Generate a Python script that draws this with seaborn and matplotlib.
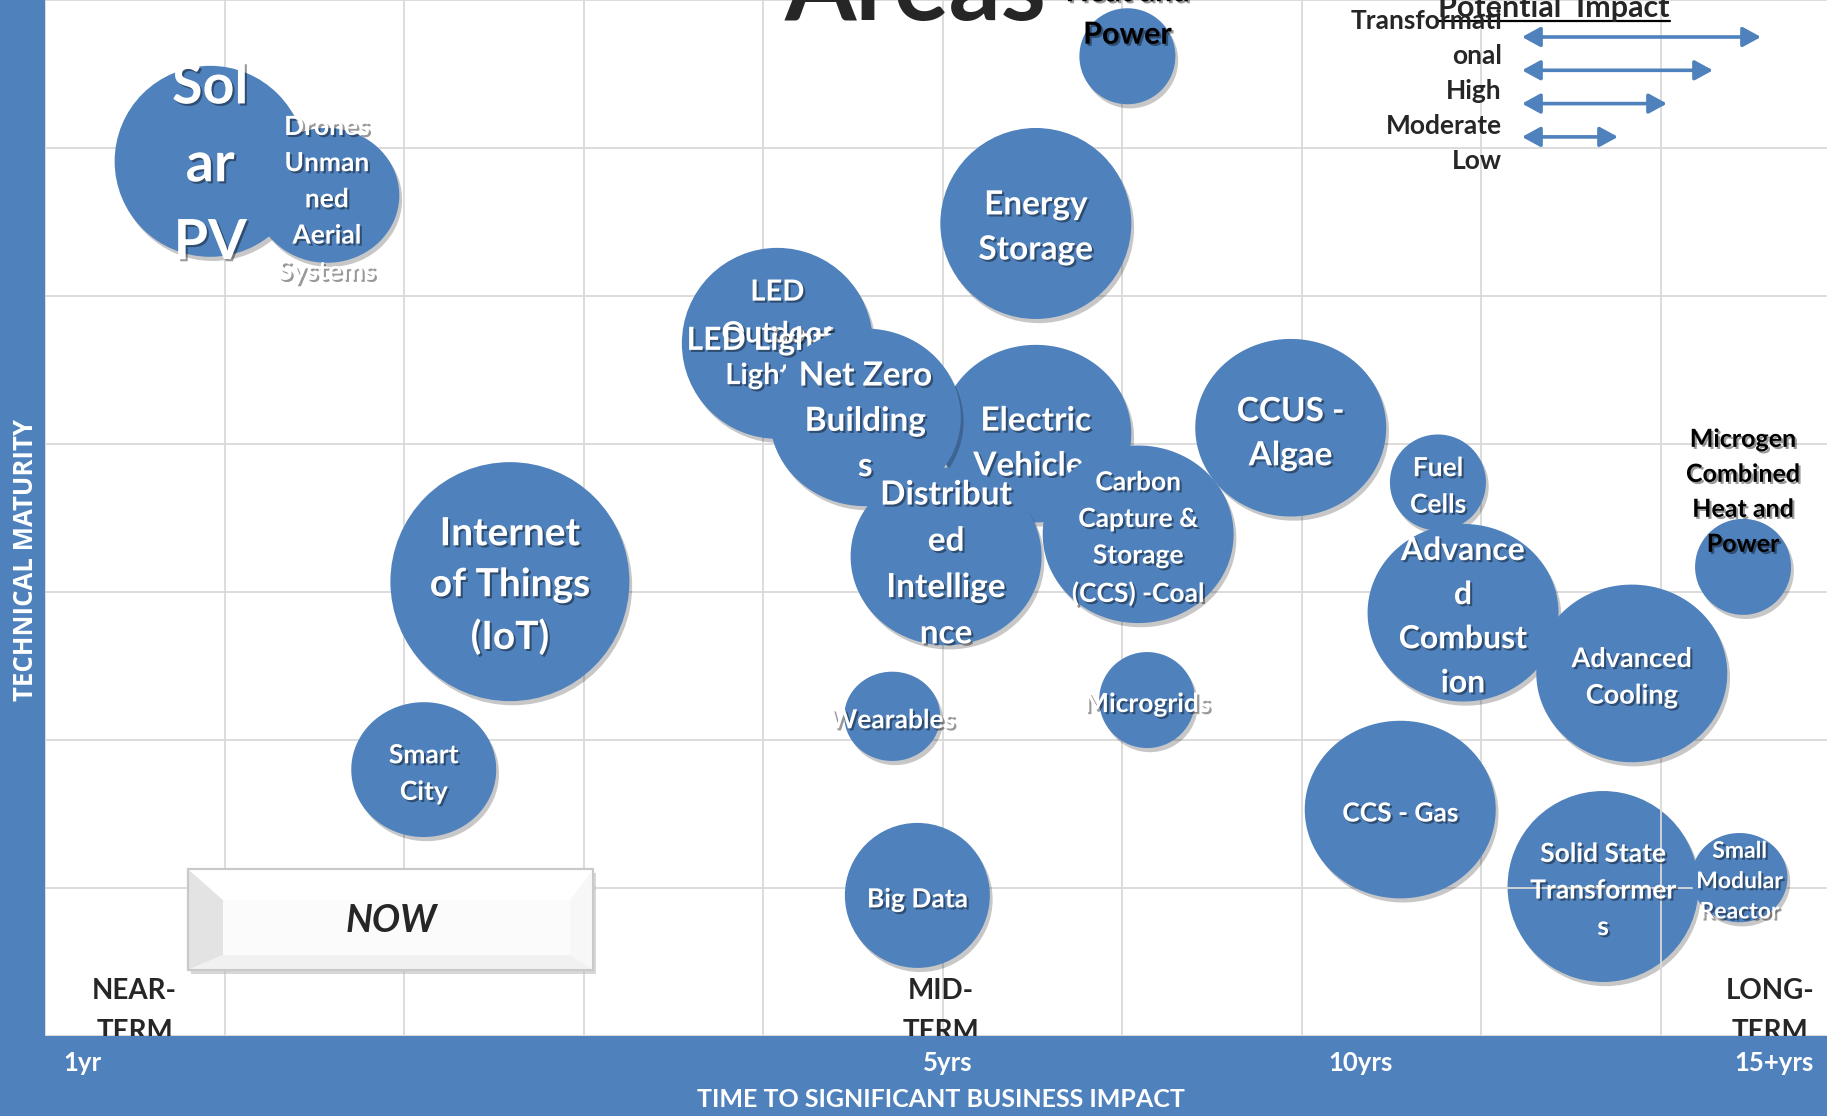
import numpy as np
import matplotlib.pyplot as plt
import matplotlib.patheffects as pe
from matplotlib.path import Path
from matplotlib.patches import Rectangle, Polygon, FancyArrowPatch
from matplotlib.lines import Line2D
import seaborn as sns

# Technologies in drawing order (later ones sit on top of earlier ones)
names = ["Solar PV", "Drones", "Combined Heat and Power", "Energy Storage",
         "LED Outdoor Lighting", "Electric Vehicles", "Net Zero Buildings",
         "Distributed Intelligence", "CCUS - Algae", "CCS - Coal",
         "Internet of Things", "Smart City", "Wearables", "Big Data", "Microgrids",
         "Fuel Cells", "Advanced Combustion", "Advanced Cooling", "Microgen CHP",
         "CCS - Gas", "Solid State Transformers", "Small Modular Reactor"]
labels = ["Sol\nar\nPV", "Drones\nUnman\nned\nAerial\nSystems", "Combined\nHeat and\nPower",
          "Energy\nStorage", "LED\nOutdoor\nLighting", "Electric\nVehicles",
          "Net Zero\nBuilding\ns", "Distribut\ned\nIntellige\nnce", "CCUS -\nAlgae",
          "Carbon\nCapture &\nStorage\n(CCS) -Coal", "Internet\nof Things\n(IoT)",
          "Smart\nCity", "Wearables", "Big Data", "Microgrids", "Fuel\nCells",
          "Advance\nd\nCombust\nion", "Advanced\nCooling",
          "Microgen\nCombined\nHeat and\nPower", "CCS - Gas",
          "Solid State\nTransformer\ns", "Small\nModular\nReactor"]
# x: time to significant business impact, y: technical maturity (grid units)
time_to_impact = [0.92, 1.57, 6.03, 5.52, 4.08, 5.52, 4.57, 5.02, 6.94, 6.09, 2.59,
                  2.11, 4.72, 4.86, 6.14, 7.76, 7.90, 8.84, 9.46, 7.55, 8.68, 9.44]
maturity = [5.91, 5.68, 6.62, 5.49, 4.68, 4.07, 4.18, 3.24, 4.11, 3.39, 3.07,
            1.80, 2.16, 0.95, 2.27, 3.74, 2.86, 2.45, 3.17, 1.53, 1.01, 1.07]
impact = ["High", "Moderate", "Low", "High", "High", "High", "High", "High", "High",
          "High", "Transformational", "Moderate", "Low", "Moderate", "Low", "Low",
          "High", "High", "Low", "High", "High", "Low"]
hidden_label = "LED Lighting"  # label of a bubble hidden under LED Outdoor Lighting

impact_levels = ["Transformational", "High", "Moderate", "Low"]
legend_text = "Transformati\nonal\nHigh\nModerate\nLow"
time_ticks = ["1yr", "5yrs", "10yrs", "15+yrs"]
time_tick_pos = [0.21, 5.03, 7.33, 9.63]
terms = ["NEAR-\nTERM", "MID-\nTERM", "LONG-\nTERM"]
term_pos = [0.50, 4.99, 9.61]

# styling
BLUE = "#4F81BD"
W, H, DPI = 1827, 1116, 100
bubble_px = {"Low": 96, "Moderate": 145, "High": 191, "Transformational": 239}
flattened = {"Drones", "Net Zero Buildings", "Electric Vehicles", "Distributed Intelligence",
             "CCS - Coal", "CCUS - Algae", "Smart City", "Wearables", "Advanced Combustion",
             "Advanced Cooling", "CCS - Gas", "Small Modular Reactor"}
font_size = {"Solar PV": 40, "Drones": 19, "Combined Heat and Power": 22, "Energy Storage": 24,
             "LED Outdoor Lighting": 21, "Electric Vehicles": 24, "Net Zero Buildings": 24,
             "Distributed Intelligence": 24, "CCUS - Algae": 24, "CCS - Coal": 19,
             "Internet of Things": 28, "Smart City": 19, "Wearables": 19, "Big Data": 19,
             "Microgrids": 19, "Fuel Cells": 19, "Advanced Combustion": 23,
             "Advanced Cooling": 19.5, "Microgen CHP": 18, "CCS - Gas": 19,
             "Solid State Transformers": 19, "Small Modular Reactor": 16.5}
line_gap = {"Solar PV": 1.68, "Internet of Things": 1.55, "Energy Storage": 1.67,
            "Distributed Intelligence": 1.72, "Net Zero Buildings": 1.68,
            "LED Outdoor Lighting": 1.75, "Small Modular Reactor": 1.55, "Drones": 1.61,
            "Electric Vehicles": 1.67}
label_shift = {"Combined Heat and Power": 68, "Microgen CHP": 79, "LED Outdoor Lighting": 13,
               "Electric Vehicles": -6, "Distributed Intelligence": -4, "CCUS - Algae": -2}
dark_labels = {"Combined Heat and Power", "Microgen CHP"}
under_grid = {"Solid State Transformers"}

sns.set_style("white")
plt.rcParams["font.family"] = ["Lato", "DejaVu Sans"]

fig = plt.figure(figsize=(W / DPI, H / DPI), dpi=DPI, facecolor=BLUE)
ax = fig.add_axes([45 / W, 80 / H, 1782 / W, 1036 / H])
ax.set_facecolor("white")
ax.set_xlim(0, 1782 / 179.5)
ax.set_ylim(0, 7)
for s in ax.spines.values():
    s.set_visible(False)

ax.set_xticks(np.arange(0, 10), minor=True)
ax.set_xticks(time_tick_pos, time_ticks)
ax.set_yticks(np.arange(0, 8), [])
ax.grid(which="minor", axis="x", color="#d9d9d9", lw=1.3)
ax.grid(which="major", axis="y", color="#d9d9d9", lw=1.3)
ax.set_axisbelow(True)
ax.tick_params(which="both", length=0)
ax.tick_params(axis="x", colors="white", labelsize=18.5, pad=11)
for lbl in ax.get_xticklabels():
    lbl.set_fontweight("bold")

theta = np.linspace(0, 2 * np.pi, 120)
flat_marker = Path(np.column_stack([np.cos(theta), 0.93 * np.sin(theta)]), closed=True)

bubble_fx = [pe.SimplePatchShadow(offset=(2, -3), shadow_rgbFace="black", alpha=0.22), pe.Normal()]
text_fx = [pe.SimplePatchShadow(offset=(1.5, -1.5), shadow_rgbFace="black", alpha=0.4), pe.Normal()]

for i, name in enumerate(names):
    z = 0.3 if name in under_grid else 2 + 2 * i
    d = bubble_px[impact[i]]
    sns.scatterplot(x=[time_to_impact[i]], y=[maturity[i]], s=(d * 72 / DPI) ** 2,
                    color=BLUE, marker=flat_marker if name in flattened else "o",
                    linewidth=0, zorder=z, legend=False, ax=ax, path_effects=bubble_fx)
    ax.annotate(labels[i], (time_to_impact[i], maturity[i]),
                xytext=(0, label_shift.get(name, 0) - 4), textcoords="offset pixels",
                ha="center", va="center", fontsize=font_size[name], fontweight="bold",
                color="black" if name in dark_labels else "white",
                linespacing=line_gap.get(name, 1.63),
                zorder=2 + 2 * i + 1, path_effects=text_fx, annotation_clip=False)
    if name == "LED Outdoor Lighting":
        ax.annotate(hidden_label, (time_to_impact[i], maturity[i]), xytext=(0, 3),
                    textcoords="offset pixels", ha="center", va="center", fontsize=23,
                    fontweight="bold", color="white", zorder=2 + 2 * i + 1,
                    path_effects=text_fx)

for t, xp in zip(terms, term_pos):
    ax.text(xp, 0.165, t, ha="center", va="center", fontsize=20, fontweight="bold",
            linespacing=1.75, clip_on=True, zorder=1)

ax.set_xlabel("TIME TO SIGNIFICANT BUSINESS IMPACT", color="white", fontsize=18,
              fontweight="bold")
ax.xaxis.set_label_coords(0.5028, -0.050)
ax.set_ylabel("TECHNICAL MATURITY", color="white", fontsize=18.5, fontweight="bold",
              family=["Open Sans", "DejaVu Sans"], va="center")
ax.yaxis.set_label_coords(-0.0112, 0.459)


def fpos(px, py):
    return px / W, 1 - py / H


# title fragment
fig.text(*fpos(915, 20), "Areas", ha="center", va="baseline", fontsize=74, fontweight="bold")

# "NOW" bevel button
x0, y0, x1, y1 = 188, 869, 593, 970
ix0, iy0, ix1, iy1 = 223, 900, 570, 955
tf = fig.transFigure
fig.add_artist(Rectangle(fpos(x0 + 3, y1 + 4), (x1 - x0) / W, (y1 - y0) / H,
                         transform=tf, color="#bdbdbd", alpha=0.6, lw=0))
fig.add_artist(Rectangle(fpos(x0, y1), (x1 - x0) / W, (y1 - y0) / H, transform=tf,
                         facecolor="#fbfbfb", edgecolor="#c9c9c9", lw=1.5))
for pts, c in [([(x0, y0), (ix0, iy0), (ix0, iy1), (x0, y1)], "#e3e3e3"),
               ([(x0, y1), (x1, y1), (ix1, iy1), (ix0, iy1)], "#f1f1f1"),
               ([(x1, y0), (x1, y1), (ix1, iy1), (ix1, iy0)], "#f7f7f7"),
               ([(x0, y0), (x1, y0), (ix1, iy0), (ix0, iy0)], "#ffffff")]:
    fig.add_artist(Polygon([fpos(*p) for p in pts], closed=True, transform=tf,
                           facecolor=c, edgecolor="none"))
fig.add_artist(Rectangle(fpos(x0, y1), (x1 - x0) / W, (y1 - y0) / H, transform=tf,
                         facecolor="none", edgecolor="#c9c9c9", lw=1.5))
fig.text(*fpos(391, 921), "NOW", ha="center", va="center", fontsize=27,
         fontweight="bold", fontstyle="italic")

# impact legend
title = fig.text(*fpos(1554, 17), "Potential  Impact", ha="center", va="baseline",
                 fontsize=22, fontweight="bold")
fig.text(*fpos(1502, 91), legend_text, ha="right", va="center", fontsize=19,
         fontweight="bold", linespacing=1.55)
for i, lvl in enumerate(impact_levels):
    yy = 37 + i * 33.3
    fig.add_artist(FancyArrowPatch(fpos(1522, yy), fpos(1522 + bubble_px[lvl], yy),
                                   transform=tf, shrinkA=0, shrinkB=0,
                                   arrowstyle="<|-|>,head_length=0.55,head_width=0.3",
                                   mutation_scale=20, lw=2.6, color=BLUE))

fig.canvas.draw()
bb = title.get_window_extent().transformed(tf.inverted())
fig.add_artist(Line2D([bb.x0, bb.x1], [1 - 20.5 / H] * 2, transform=tf, color="black", lw=1.6))

fig.savefig("out.png", dpi=DPI, facecolor=BLUE)
